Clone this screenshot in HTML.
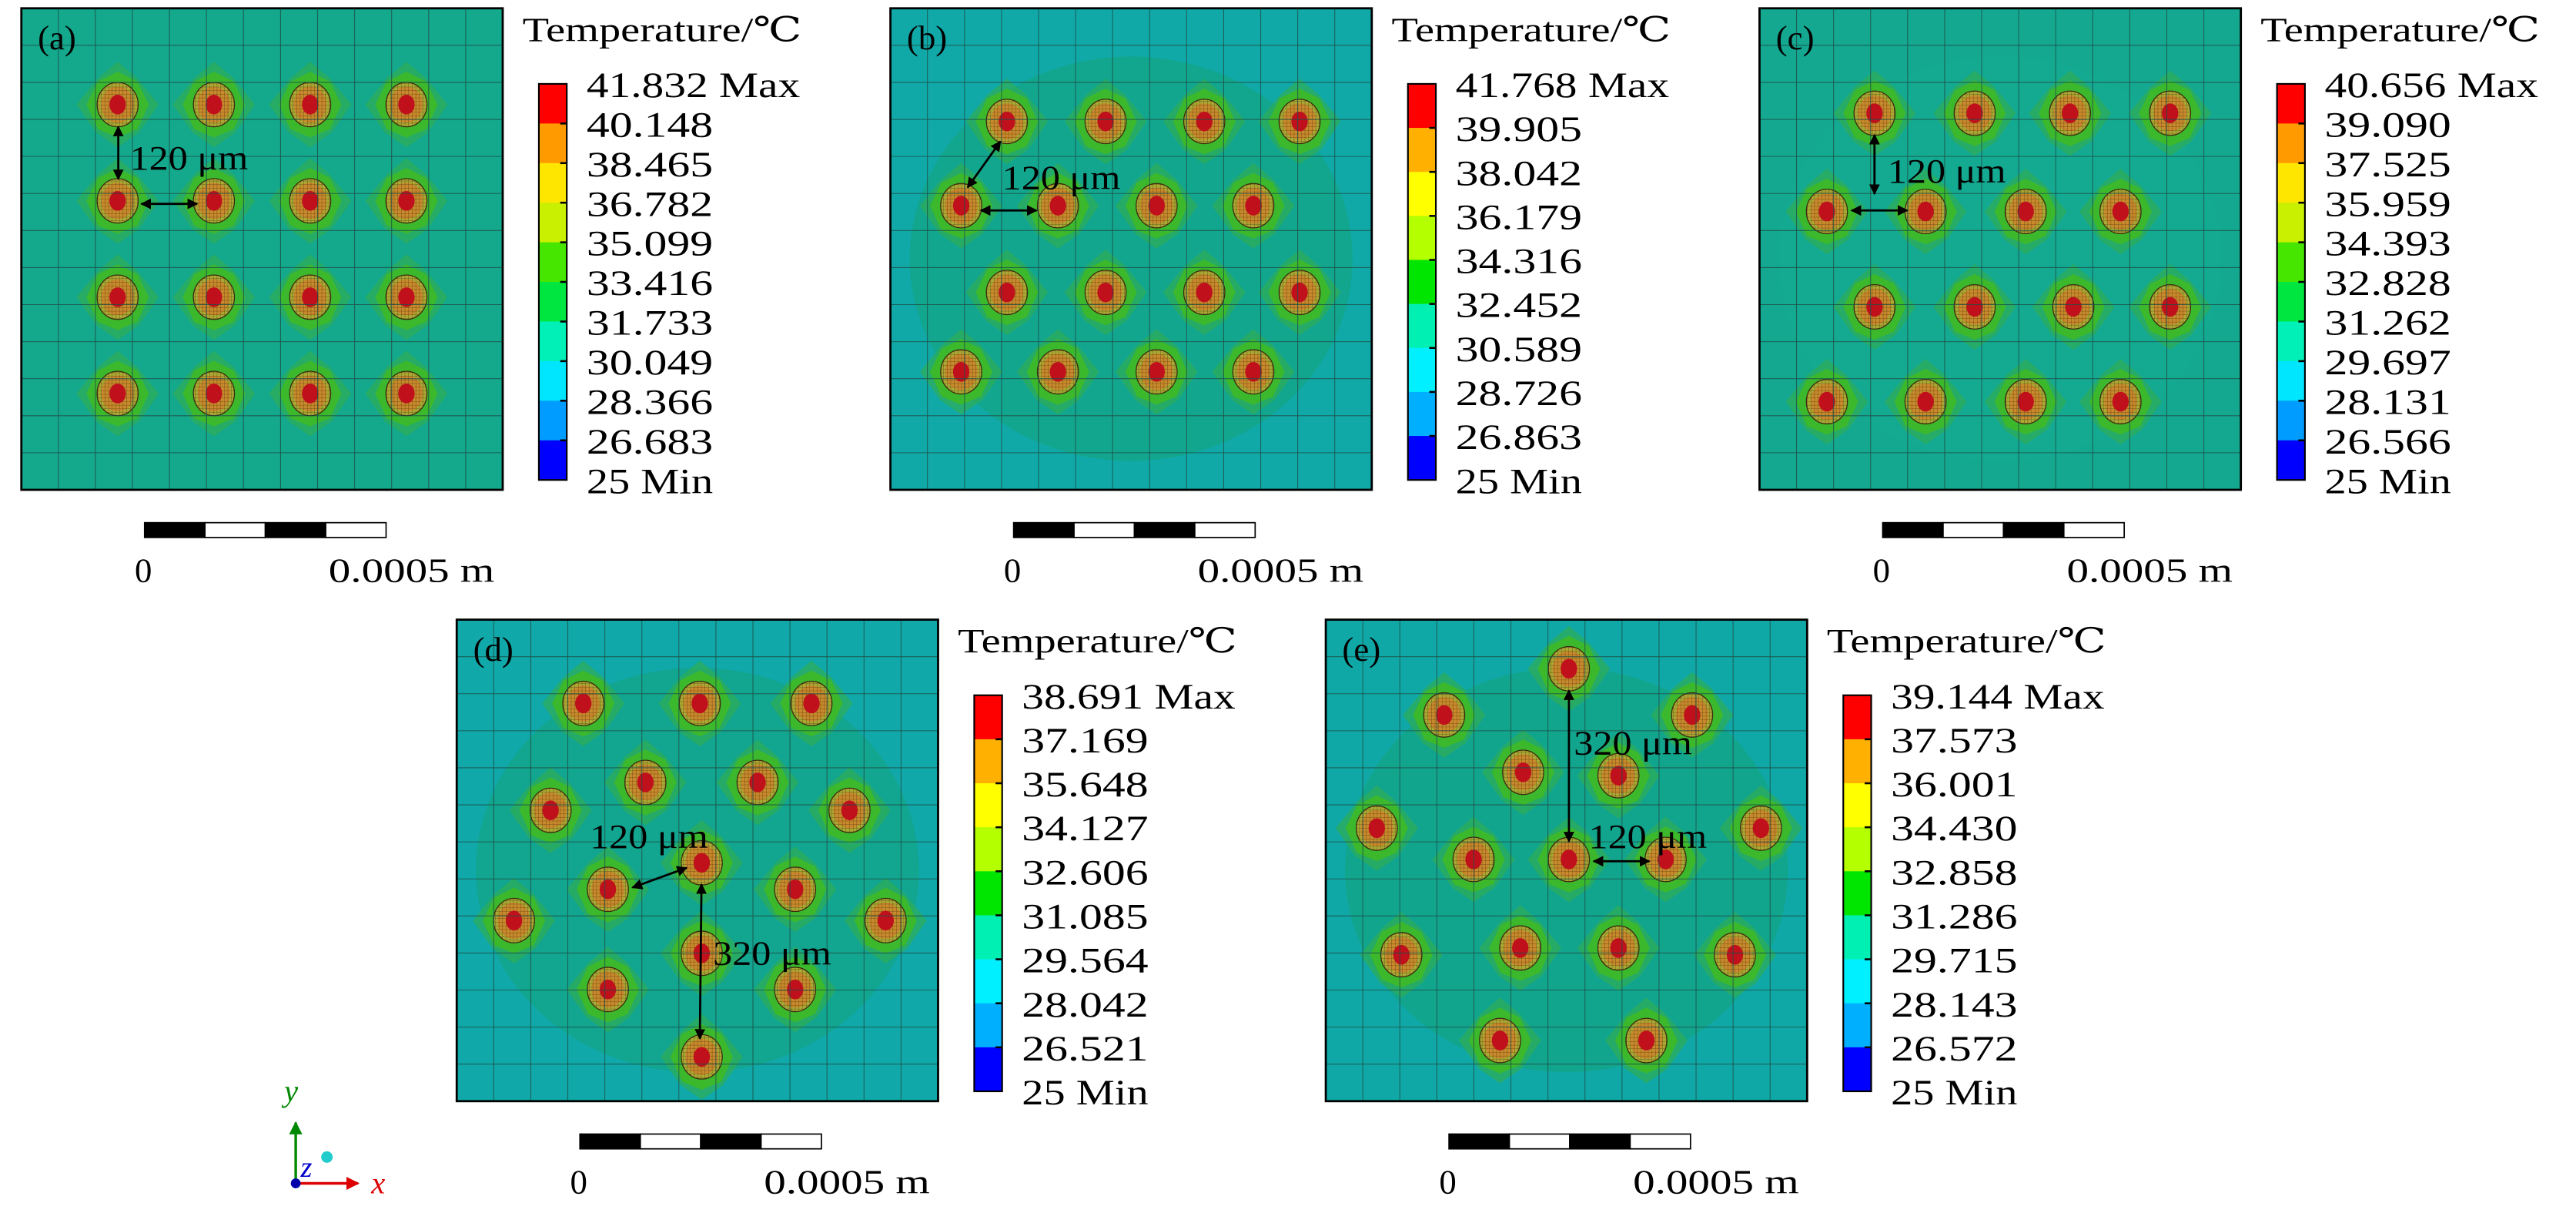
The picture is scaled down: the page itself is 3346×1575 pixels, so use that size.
<!DOCTYPE html>
<html><head><meta charset="utf-8"><style>
html,body{margin:0;padding:0;background:#fff}
svg{display:block}
text{font-family:"Liberation Serif","DejaVu Serif",serif}
</style></head><body>
<svg id="fig" width="3346" height="1575" viewBox="0 0 1568 738" xmlns="http://www.w3.org/2000/svg" font-family="Liberation Serif, DejaVu Serif, serif">
<defs>
<pattern id="mesh" width="2.2" height="2.2" patternUnits="userSpaceOnUse">
<path d="M0 0H2.2M0 0V2.2" stroke="#4a2a08" stroke-width="0.35" fill="none"/>
</pattern>
<marker id="ah" viewBox="0 0 10 10" refX="9" refY="5" markerWidth="5" markerHeight="5" orient="auto-start-reverse"><path d="M0 0L10 5L0 10z" fill="#000"/></marker>
<marker id="ahr" viewBox="0 0 10 10" refX="9" refY="5" markerWidth="5" markerHeight="5" orient="auto"><path d="M0 0L10 5L0 10z" fill="#d00"/></marker>
<marker id="ahg" viewBox="0 0 10 10" refX="9" refY="5" markerWidth="5" markerHeight="5" orient="auto"><path d="M0 0L10 5L0 10z" fill="#080"/></marker>
</defs>
</svg>
<script>
const panelIds = ['a','b','c','d','e'];
const panelX = [13, 542, 1071, 278, 807];
const panelY = [5, 5, 5, 377, 377];
const boxSize = 293;
const bgColors = ['#14a88c','#10a9a8','#14a891','#10a8a8','#10a8a6'];
const innerColors = ['#14a88c','#13a58c','#14a891','#13a48c','#13a48c'];
const legendA = ['41.832','40.148','38.465','36.782','35.099','33.416','31.733','30.049','28.366','26.683','25'];
const legendB = ['41.768','39.905','38.042','36.179','34.316','32.452','30.589','28.726','26.863','25'];
const legendC = ['40.656','39.090','37.525','35.959','34.393','32.828','31.262','29.697','28.131','26.566','25'];
const legendD = ['38.691','37.169','35.648','34.127','32.606','31.085','29.564','28.042','26.521','25'];
const legendE = ['39.144','37.573','36.001','34.430','32.858','31.286','29.715','28.143','26.572','25'];
const colors10 = ['#ff0000','#ff9a00','#ffe600','#c8f000','#46e600','#00e641','#00f0b8','#00e6ff','#009cff','#0000ff'];
const colors9 = ['#ff0000','#ffb000','#ffff00','#b4ff00','#00e600','#00f0b4','#00f0ff','#00b0ff','#0000ff'];
const spotsA = [[0.2,0.2],[0.4,0.2],[0.6,0.2],[0.8,0.2],[0.2,0.4],[0.4,0.4],[0.6,0.4],[0.8,0.4],[0.2,0.6],[0.4,0.6],[0.6,0.6],[0.8,0.6],[0.2,0.8],[0.4,0.8],[0.6,0.8],[0.8,0.8]];
const spotsB = [[0.242,0.235],[0.447,0.235],[0.652,0.235],[0.85,0.235],[0.147,0.41],[0.348,0.41],[0.553,0.41],[0.754,0.41],[0.242,0.59],[0.447,0.59],[0.652,0.59],[0.85,0.59],[0.147,0.755],[0.348,0.755],[0.553,0.755],[0.754,0.755]];
const spotsC = [[0.239,0.218],[0.447,0.218],[0.645,0.218],[0.853,0.218],[0.14,0.422],[0.345,0.422],[0.553,0.422],[0.75,0.422],[0.239,0.62],[0.447,0.62],[0.652,0.62],[0.853,0.62],[0.14,0.817],[0.345,0.817],[0.553,0.817],[0.75,0.817]];
const spotsD = [[0.263,0.174],[0.505,0.174],[0.737,0.174],[0.392,0.338],[0.625,0.338],[0.195,0.396],[0.816,0.396],[0.509,0.505],[0.314,0.56],[0.703,0.56],[0.119,0.625],[0.891,0.625],[0.509,0.693],[0.314,0.768],[0.703,0.768],[0.509,0.908]];
const spotsE = [[0.505,0.102],[0.246,0.198],[0.761,0.198],[0.41,0.317],[0.608,0.324],[0.106,0.433],[0.904,0.433],[0.505,0.498],[0.307,0.498],[0.706,0.498],[0.157,0.696],[0.85,0.696],[0.404,0.682],[0.608,0.682],[0.362,0.874],[0.666,0.874]];
const allLegends = [legendA, legendB, legendC, legendD, legendE];
const allSpots = [spotsA, spotsB, spotsC, spotsD, spotsE];
const arrowsA = [[72,77,72,109],[86,124,120,124]];
const arrowsB = [[589,114,609,86],[597,128,631,128]];
const arrowsC = [[1141,82,1141,118],[1127,128,1161,128]];
const arrowsD = [[385,540,418,528],[427,538,426,632]];
const arrowsE = [[955,420,955,512],[970,524,1004,524]];
const labelsA = [['120 μm',79,103]];
const labelsB = [['120 μm',610,115]];
const labelsC = [['120 μm',1149,111]];
const labelsD = [['120 μm',359,516],['320 μm',434,587]];
const labelsE = [['320 μm',958,459],['120 μm',967,516]];
const allArrows=[arrowsA,arrowsB,arrowsC,arrowsD,arrowsE];
const allLabels=[labelsA,labelsB,labelsC,labelsD,labelsE];

const NS='http://www.w3.org/2000/svg';
const svg=document.getElementById('fig');
function mk(tag, attrs, parent){const e=document.createElementNS(NS,tag);for(const k in attrs)e.setAttribute(k,attrs[k]);(parent||svg).appendChild(e);return e;}
const FF='Liberation Serif, DejaVu Serif, serif';

panelIds.forEach((id,i)=>{
  const x0=panelX[i], y0=panelY[i], S=boxSize;
  const g=mk('g',{});
  
  
  const bg=mk('rect',{x:x0,y:y0,width:S,height:S,fill:bgColors[i]},g);
  
  
  if(i>0){
    const inner=mk('ellipse',{cx:x0+S*0.5,cy:y0+S*0.52,rx:S*0.46,ry:S*0.42,fill:innerColors[i],opacity:0.9},g);
    
    
  }
  const sp=allSpots[i];
  sp.forEach(p=>{
    const cx=x0+p[0]*S, cy=y0+p[1]*S;
    const wide=mk('path',{d:`M${cx-25} ${cy}L${cx-12} ${cy-16}L${cx} ${cy-26}L${cx+12} ${cy-16}L${cx+25} ${cy}L${cx+13} ${cy+17}L${cx} ${cy+26}L${cx-13} ${cy+17}Z`,fill:'#2fae55',opacity:0.7},g);
    
    
    const halo=mk('path',{d:`M${cx-19} ${cy}L${cx-12} ${cy-14}L${cx} ${cy-20}L${cx+12} ${cy-14}L${cx+19} ${cy}L${cx+12} ${cy+15}L${cx} ${cy+20}L${cx-12} ${cy+15}Z`,fill:'#3cb82c'},g);
    
    
  });
  sp.forEach(p=>{
    const cx=x0+p[0]*S, cy=y0+p[1]*S;
    const spot=mk('g',{},g);
    
    
    mk('ellipse',{cx,cy,rx:12.5,ry:13.5,fill:'#a9a934',stroke:'#3a2a10','stroke-width':0.6},spot);
    mk('ellipse',{cx,cy,rx:10,ry:11,fill:'#c88a2c'},spot);
    mk('ellipse',{cx,cy,rx:12.5,ry:13.5,fill:'url(#mesh)',opacity:0.8},spot);
    mk('ellipse',{cx,cy,rx:5,ry:6,fill:'#c0101c'},spot);
  });
  for(let k=1;k<13;k++){
    const t=S*k/13;
    mk('line',{x1:x0+t,y1:y0,x2:x0+t,y2:y0+S,stroke:'#1d4f48','stroke-width':0.5,opacity:0.8},g);
    mk('line',{x1:x0,y1:y0+t,x2:x0+S,y2:y0+t,stroke:'#1d4f48','stroke-width':0.5,opacity:0.8},g);
  }
  const border=mk('rect',{x:x0,y:y0,width:S,height:S,fill:'none',stroke:'#000','stroke-width':1.3},g);
  
  
  const lab=mk('text',{x:x0+10,y:y0+25,'font-size':21,'font-family':FF},g);
  lab.textContent='('+id+')';
  
  
  allArrows[i].forEach(a=>{
    const l=mk('line',{x1:a[0],y1:a[1],x2:a[2],y2:a[3],stroke:'#000','stroke-width':1.3,'marker-start':'url(#ah)','marker-end':'url(#ah)'},g);
    
    
  });
  allLabels[i].forEach(t=>{
    const tx=mk('text',{x:t[1],y:t[2],'font-size':21,'font-family':FF,textLength:72,lengthAdjust:'spacingAndGlyphs'},g);
    tx.textContent=t[0];
    
    
  });
  const lx=x0+315, ly=y0;
  const leg=mk('g',{},g);
  
  
  const title=mk('text',{x:lx-10,y:ly+20,'font-size':21,'font-family':FF,textLength:170,lengthAdjust:'spacingAndGlyphs'},leg);
  title.textContent='Temperature/℃';
  
  
  const vals=allLegends[i];
  const n=vals.length-1;
  const cols=n===10?colors10:colors9;
  const bx=lx, by0=ly+46, by1=ly+287, bh=(by1-by0)/n;
  for(let k=0;k<n;k++){
    const c=mk('rect',{x:bx,y:by0+k*bh,width:17,height:bh+0.3,fill:cols[k]},leg);
    
    
  }
  mk('rect',{x:bx,y:by0,width:17,height:by1-by0,fill:'none',stroke:'#000','stroke-width':1},leg);
  vals.forEach((v,k)=>{
    if(k>0&&k<n) mk('line',{x1:bx+13,y1:by0+k*bh,x2:bx+17,y2:by0+k*bh,stroke:'#000','stroke-width':1.2},leg);
    const txt=v+(k===0?' Max':(k===n?' Min':''));
    const attrs={x:bx+29,y:by0+k*bh+8,'font-size':22,'font-family':FF};
    if(v.length===6) {attrs.textLength = (k===0?130:77); attrs.lengthAdjust='spacingAndGlyphs';}
    else {attrs.textLength=77; attrs.lengthAdjust='spacingAndGlyphs';}
    const t=mk('text',attrs,leg);
    t.textContent=txt;
    
    
  });
  const sx=x0+75, sy=y0+313;
  const sb=mk('g',{},g);
  
  
  for(let k=0;k<4;k++) mk('rect',{x:sx+k*36.75,y:sy,width:36.75,height:9,fill:k%2?'#fff':'#000',stroke:'#000','stroke-width':0.8},sb);
  const z=mk('text',{x:sx-6,y:sy+36,'font-size':21,'font-family':FF},sb);z.textContent='0';
  
  
  const m=mk('text',{x:sx+112,y:sy+36,'font-size':21,'font-family':FF,textLength:101,lengthAdjust:'spacingAndGlyphs'},sb);m.textContent='0.0005 m';
  
  
});
const tri=mk('g',{});


mk('line',{x1:180,y1:720,x2:180,y2:683,stroke:'#080','stroke-width':1.6,'marker-end':'url(#ahg)'},tri);
mk('line',{x1:180,y1:720,x2:218,y2:720,stroke:'#d00','stroke-width':1.6,'marker-end':'url(#ahr)'},tri);
mk('circle',{cx:199,cy:704,r:3.5,fill:'#2cc'},tri);
mk('circle',{cx:180,cy:720,r:3,fill:'#00a'},tri);
const ty=mk('text',{x:173,y:670,'font-size':19,'font-style':'italic',fill:'#080','font-family':FF},tri);ty.textContent='y';
const tz=mk('text',{x:183,y:716,'font-size':18,'font-style':'italic',fill:'#00c','font-family':FF},tri);tz.textContent='z';
const txx=mk('text',{x:226,y:726,'font-size':19,'font-style':'italic',fill:'#d00','font-family':FF},tri);txx.textContent='x';
</script>
</body></html>
